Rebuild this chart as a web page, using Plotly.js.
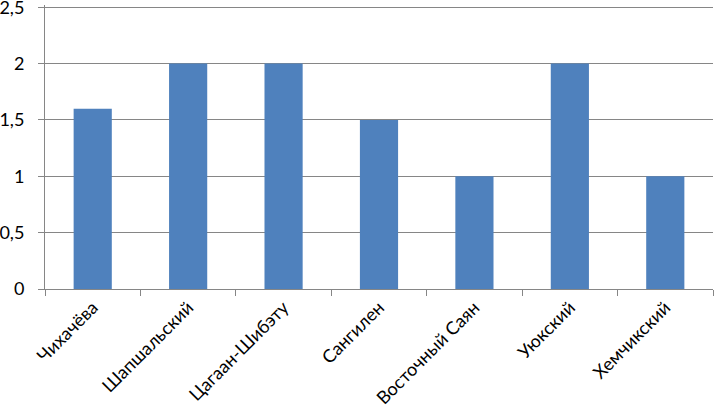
<!DOCTYPE html>
<html>
<head>
<meta charset="utf-8">
<script src="https://cdn.plot.ly/plotly-3.0.1.min.js"></script>
<style>html,body{margin:0;padding:0;background:#fff;}#chart{width:714px;height:415px;}</style>
</head>
<body>
<div id="chart"></div>
<script>
const categories = ["Чихачёва", "Шапшальский", "Цагаан-Шибэту", "Сангилен", "Восточный Саян", "Уюкский", "Хемчикский"];
const values = [1.6, 2, 2, 1.5, 1, 2, 1];
const yTickVals = [0, 0.5, 1, 1.5, 2, 2.5];
const yTickText = ["0", "0,5", "1", "1,5", "2", "2,5"];

const trace = {
  type: "bar",
  x: categories,
  y: values,
  marker: {color: "#4F81BD", line: {width: 0}},
  hoverinfo: "none"
};

const layout = {
  width: 714,
  height: 415,
  margin: {l: 45, r: 1, t: 5, b: 126, pad: 0},
  paper_bgcolor: "#ffffff",
  plot_bgcolor: "#ffffff",
  bargap: 0.6,
  showlegend: false,
  font: {family: "Lato, 'Open Sans', sans-serif", size: 18, color: "#000000"},
  xaxis: {
    type: "category",
    tickangle: -45,
    tickson: "boundaries",
    ticks: "outside",
    ticklen: 6,
    tickcolor: "#868686",
    showline: true,
    linecolor: "#868686",
    linewidth: 1,
    showgrid: false,
    tickfont: {size: 18, color: "#000000"},
    fixedrange: true
  },
  yaxis: {
    range: [0, 2.52],
    tickvals: yTickVals,
    ticktext: yTickText,
    ticks: "outside",
    ticklen: 6,
    ticklabelstandoff: 10,
    ticklabeloverflow: "allow",
    tickcolor: "#868686",
    showline: true,
    linecolor: "#868686",
    linewidth: 1,
    showgrid: true,
    gridcolor: "#868686",
    gridwidth: 1,
    zeroline: false,
    tickfont: {size: 18, color: "#000000"},
    fixedrange: true
  }
};

Plotly.newPlot("chart", [trace], layout, {displayModeBar: false, staticPlot: true});
</script>
</body>
</html>
